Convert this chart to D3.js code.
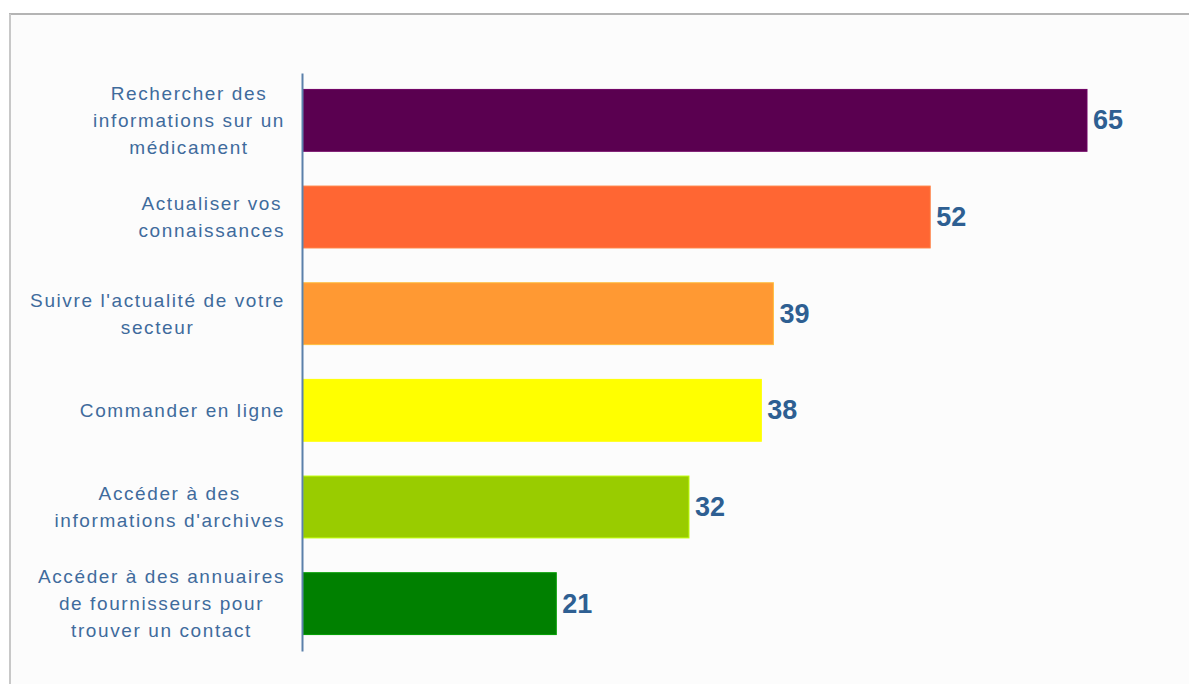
<!DOCTYPE html>
<html>
<head>
<meta charset="utf-8">
<script src="https://cdn.jsdelivr.net/npm/d3@7"></script>
<style>
  html, body { margin: 0; padding: 0; background: #ffffff; }
  svg { display: block; }
</style>
</head>
<body>
<svg id="chart" width="1189" height="684"></svg>
<script>
const categories = [
  ["Rechercher des", "informations sur un", "médicament"],
  ["Actualiser vos", "connaissances"],
  ["Suivre l'actualité de votre", "secteur"],
  ["Commander en ligne"],
  ["Accéder à des", "informations d'archives"],
  ["Accéder à des annuaires", "de fournisseurs pour", "trouver un contact"]
];
const values = [65, 52, 39, 38, 32, 21];
const colors = ["#5a0050", "#ff6633", "#ff9933", "#ffff00", "#99cc00", "#008000"];

const svg = d3.select("#chart");
const W = 1189, H = 684;

// frame
svg.append("rect").attr("x", 10).attr("y", 14).attr("width", W - 10).attr("height", H - 14)
  .attr("fill", "#fcfcfc");
svg.append("line").attr("x1", 9).attr("x2", W).attr("y1", 14).attr("y2", 14)
  .attr("stroke", "#b4b4b4").attr("stroke-width", 2);
svg.append("line").attr("x1", 10).attr("x2", 10).attr("y1", 14).attr("y2", H)
  .attr("stroke", "#c8c8c8").attr("stroke-width", 2);

const x0 = 303;
const x = d3.scaleLinear().domain([0, 65]).range([x0, 1087]);
const y = d3.scaleBand().domain(d3.range(categories.length)).range([73, 651]).paddingInner(0.36).paddingOuter(0.17);

const g = svg.append("g");

g.selectAll("rect.bar").data(values).join("rect")
  .attr("class", "bar")
  .attr("x", x(0))
  .attr("y", (d, i) => y(i))
  .attr("width", d => x(d) - x(0))
  .attr("height", y.bandwidth())
  .attr("fill", (d, i) => colors[i])
  .attr("stroke", (d, i) => d3.color(colors[i]).brighter(0.6))
  .attr("stroke-width", 1);

// axis line
const yAxis = d3.axisLeft(y).tickSize(0).tickFormat("");
const axG = svg.append("g").attr("transform", `translate(${x0 - 1},0)`).call(yAxis);
axG.select(".domain").attr("stroke", "#5b80aa").attr("stroke-width", 2);

// category labels
const labelRight = 285;
const lineH = 27;
categories.forEach((lines, i) => {
  const cy = y(i) + y.bandwidth() / 2;
  const grp = svg.append("g");
  const texts = lines.map((ln, j) => grp.append("text")
    .attr("y", cy + (j - (lines.length - 1) / 2) * lineH)
    .attr("dominant-baseline", "central")
    .attr("text-anchor", "middle")
    .attr("font-family", "'Liberation Sans', Arial, sans-serif")
    .attr("font-size", 19)
    .attr("letter-spacing", "1.6px")
    .attr("fill", "#3f6b9c")
    .text(ln));
  const widths = texts.map(t => t.node().getComputedTextLength());
  const maxW = d3.max(widths);
  texts.forEach(t => t.attr("x", labelRight - maxW / 2));
});

// value labels
svg.selectAll("text.val").data(values).join("text")
  .attr("class", "val")
  .attr("x", d => x(d) + 6)
  .attr("y", (d, i) => y(i) + y.bandwidth() / 2)
  .attr("dominant-baseline", "central")
  .attr("font-family", "'Liberation Sans', Arial, sans-serif")
  .attr("font-weight", "bold")
  .attr("font-size", 27)
  .attr("fill", "#2e5f92")
  .text(d => d);
</script>
</body>
</html>
